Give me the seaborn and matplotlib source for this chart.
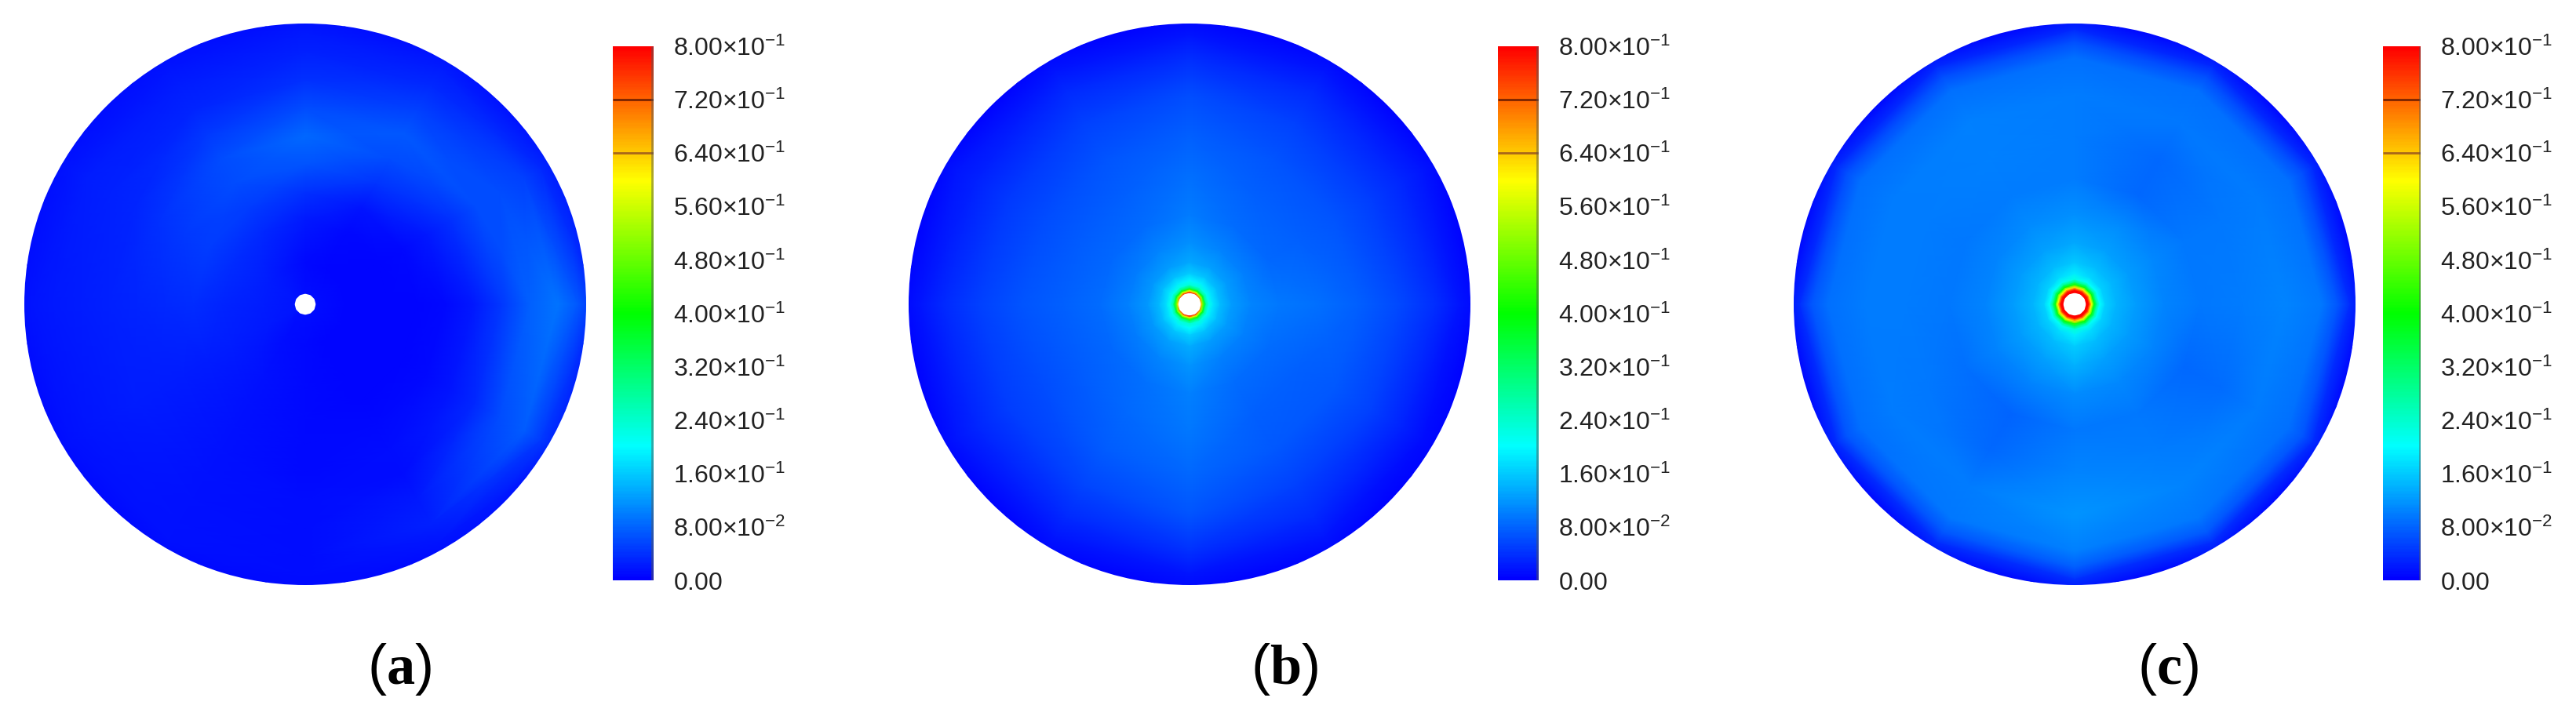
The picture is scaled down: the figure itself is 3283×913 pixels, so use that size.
#!/usr/bin/env python3
# -*- coding: utf-8 -*-
import numpy as np
import matplotlib
matplotlib.use("Agg")
import matplotlib.pyplot as plt
from matplotlib.colors import LinearSegmentedColormap
import seaborn as sns

W, H = 3283, 913

# values, x 1e-3, rows = radius / disc radius, cols = angle
angles_deg = [0, 30, 60, 90, 120, 150, 180, 210, 240, 270, 300, 330]

radii_a = [0.039, 0.15, 0.3, 0.4, 0.5, 0.6, 0.7, 0.8, 0.9, 0.97, 1.05]
field_a = [
    [10, 10, 10, 10, 14, 18, 18, 16, 12, 10, 10, 10],
    [5, 5, 6, 8, 16, 24, 24, 20, 12, 8, 5, 5],
    [5, 5, 8, 20, 32, 36, 30, 22, 14, 8, 5, 5],
    [6, 8, 18, 38, 48, 48, 36, 24, 14, 8, 6, 6],
    [8, 20, 42, 66, 62, 44, 34, 24, 14, 8, 8, 8],
    [20, 38, 62, 82, 60, 38, 30, 22, 14, 9, 10, 18],
    [44, 60, 70, 62, 44, 30, 28, 22, 14, 10, 12, 32],
    [76, 60, 50, 40, 30, 26, 24, 20, 14, 11, 20, 60],
    [92, 50, 34, 28, 24, 22, 20, 18, 14, 12, 26, 72],
    [70, 32, 22, 20, 18, 18, 16, 14, 13, 12, 18, 44],
    [30, 14, 12, 12, 12, 12, 10, 8, 8, 8, 8, 18],
]

radii_b = [0.042, 0.048, 0.054, 0.06, 0.07, 0.085, 0.11, 0.15, 0.22, 0.32, 0.45, 0.6, 0.75, 0.88, 0.96, 1.05]
field_b = [
    [640, 700, 760, 790, 760, 700, 620, 700, 760, 790, 760, 700],
    [480, 520, 580, 610, 580, 520, 470, 520, 580, 620, 580, 520],
    [360, 380, 410, 430, 410, 380, 350, 380, 410, 440, 410, 380],
    [270, 280, 300, 310, 300, 280, 260, 280, 300, 320, 300, 280],
    [215, 215, 225, 230, 220, 215, 210, 215, 225, 235, 225, 215],
    [180, 180, 190, 195, 185, 180, 175, 180, 190, 200, 185, 180],
    [150, 148, 154, 162, 152, 148, 146, 148, 154, 165, 152, 148],
    [124, 122, 126, 134, 124, 120, 120, 120, 126, 136, 124, 122],
    [106, 100, 104, 114, 104, 98, 100, 98, 106, 116, 102, 100],
    [94, 84, 86, 98, 86, 82, 86, 82, 90, 102, 86, 86],
    [90, 76, 76, 90, 78, 72, 78, 72, 82, 94, 78, 78],
    [78, 66, 66, 78, 68, 60, 68, 62, 72, 84, 70, 70],
    [58, 48, 50, 60, 52, 44, 50, 48, 56, 66, 52, 50],
    [36, 30, 32, 36, 34, 28, 32, 30, 34, 40, 32, 28],
    [18, 16, 16, 18, 18, 16, 18, 16, 18, 18, 16, 12],
    [3, 3, 3, 3, 3, 3, 3, 3, 3, 3, 3, 3],
]

radii_c = [0.042, 0.05, 0.056, 0.061, 0.07, 0.08, 0.09, 0.11, 0.15, 0.22, 0.32, 0.45, 0.6, 0.75, 0.88, 0.94, 0.98, 1.05]
field_c = [
    [800, 800, 800, 800, 800, 800, 800, 800, 800, 800, 800, 800],
    [800, 790, 790, 800, 790, 790, 800, 790, 790, 800, 790, 790],
    [700, 700, 690, 710, 700, 690, 700, 700, 690, 710, 700, 690],
    [600, 590, 590, 620, 600, 590, 600, 590, 600, 630, 600, 590],
    [390, 390, 390, 420, 400, 390, 390, 390, 400, 430, 400, 390],
    [275, 275, 280, 300, 285, 275, 275, 275, 285, 310, 285, 275],
    [200, 200, 205, 220, 210, 200, 200, 200, 210, 230, 210, 200],
    [165, 165, 170, 185, 172, 165, 165, 165, 172, 190, 172, 165],
    [142, 144, 148, 158, 148, 142, 142, 142, 148, 162, 148, 142],
    [122, 124, 128, 134, 128, 122, 122, 122, 128, 138, 128, 122],
    [106, 108, 110, 114, 110, 106, 106, 104, 106, 112, 108, 104],
    [94, 94, 82, 98, 98, 96, 96, 90, 80, 96, 96, 84],
    [98, 96, 84, 98, 100, 98, 98, 94, 84, 104, 98, 86],
    [104, 98, 96, 98, 100, 98, 98, 98, 98, 116, 104, 98],
    [94, 88, 88, 88, 88, 88, 90, 90, 94, 102, 96, 90],
    [68, 62, 62, 62, 62, 62, 66, 66, 68, 74, 70, 66],
    [36, 32, 32, 32, 32, 32, 36, 36, 36, 38, 36, 36],
    [3, 3, 3, 3, 3, 3, 3, 3, 3, 3, 3, 3],
]

tick_values = [0.8, 0.72, 0.64, 0.56, 0.48, 0.4, 0.32, 0.24, 0.16, 0.08, 0.0]
tick_labels = [r"8.00{\times}10^{-1}", r"7.20{\times}10^{-1}", r"6.40{\times}10^{-1}",
               r"5.60{\times}10^{-1}", r"4.80{\times}10^{-1}", r"4.00{\times}10^{-1}",
               r"3.20{\times}10^{-1}", r"2.40{\times}10^{-1}", r"1.60{\times}10^{-1}",
               r"8.00{\times}10^{-2}", r"0.00"]
captions = ["a", "b", "c"]

# pixel layout: disc centre x, colourbar left, colourbar right, caption x
disc_x = [389, 1516, 2644]
bar_x = [(781, 833), (1909, 1961), (3037, 3085)]
caption_x = [509, 1637, 2763]
disc_y, disc_r = 388, 358
bar_top, bar_bottom = 59, 740

sns.set_theme(style="white")
plt.rcParams["font.family"] = ["Liberation Sans"]
plt.rcParams["mathtext.fontset"] = "custom"
plt.rcParams["mathtext.rm"] = "Liberation Sans"
plt.rcParams["mathtext.bf"] = "Liberation Serif:bold"

cmap = LinearSegmentedColormap.from_list("fluent", ["#0000ff", "#00ffff", "#00ff00", "#ffff00", "#ff0000"])
ramp = np.linspace(0.8, 0, 340).reshape(-1, 1)

fig = plt.figure(figsize=(W / 100, H / 100), dpi=100, facecolor="white")


def px_axes(left, top, right, bottom, **kw):
    return fig.add_axes([left / W, 1 - bottom / H, (right - left) / W, (bottom - top) / H], **kw)


fields = [(radii_a, field_a), (radii_b, field_b), (radii_c, field_c)]
for i, (radii, field) in enumerate(fields):
    ax = px_axes(disc_x[i] - disc_r, disc_y - disc_r, disc_x[i] + disc_r, disc_y + disc_r, projection="polar")
    vals = np.array(field) / 1000
    vals = np.column_stack([vals, vals[:, 0]])
    th = np.deg2rad(angles_deg + [360])
    ax.pcolormesh(th, radii, vals, shading="gouraud", cmap=cmap, vmin=0, vmax=0.8)
    ax.set_ylim(0, 1)
    ax.axis("off")

    cax = px_axes(bar_x[i][0], bar_top, bar_x[i][1], bar_bottom)
    sns.heatmap(ramp, cmap=cmap, vmin=0, vmax=0.8, cbar=False, ax=cax, xticklabels=False, yticklabels=False)
    n = len(ramp)
    cax.set_yticks([(0.8 - v) / 0.8 * n for v in tick_values])
    cax.set_yticklabels(["$\\mathrm{" + t + "}$" for t in tick_labels], fontsize=23, color="#222222")
    cax.yaxis.tick_right()
    cax.tick_params(axis="y", length=0, pad=18, labelrotation=0)
    cax.hlines((0.8 - 0.72) / 0.8 * n, 0, 1, color="#7a2400", lw=2)
    cax.hlines((0.8 - 0.64) / 0.8 * n, 0, 1, color="#a8661a", lw=2)
    cax.vlines(0.97, 0, n, color="#555555", lw=2, alpha=0.5)

    fig.text(caption_x[i] / W, 1 - 853 / H, "$(\\mathbf{" + captions[i] + "})$", fontsize=52,
             ha="center", va="center", color="black", math_fontfamily="custom",
             family="Liberation Serif")

fig.savefig("out.png", dpi=100)
